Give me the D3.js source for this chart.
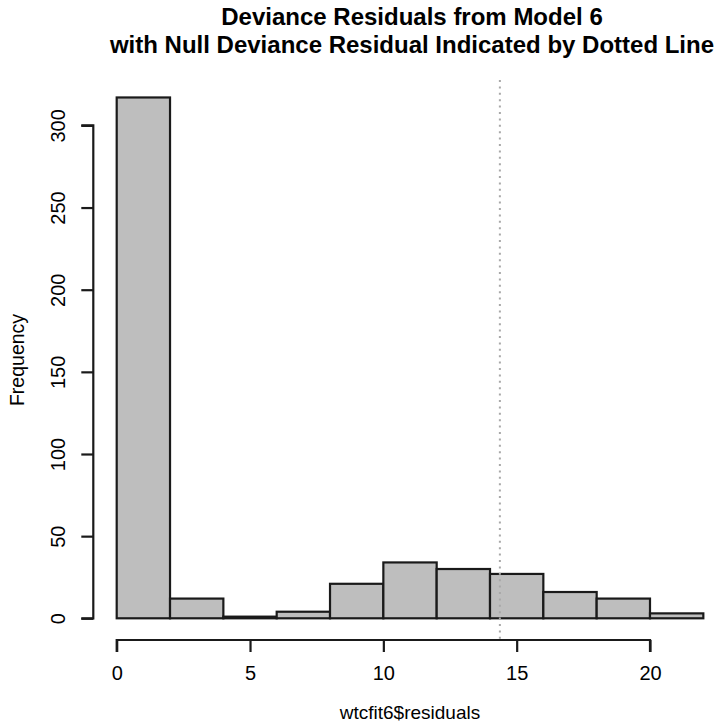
<!DOCTYPE html>
<html>
<head>
<meta charset="utf-8">
<script src="https://cdn.jsdelivr.net/npm/d3@7/dist/d3.min.js"></script>
<style>
  html, body { margin: 0; padding: 0; background: #fff; }
  svg { display: block; }
  text { font-family: "Liberation Sans", Arial, sans-serif; fill: #000; }
</style>
</head>
<body>
<svg id="chart" width="714" height="726"></svg>
<script>
// Histogram bins (breaks) and counts
const binEdges = [0, 2, 4, 6, 8, 10, 12, 14, 16, 18, 20, 22];
const counts = [317, 12, 1, 4, 21, 34, 30, 27, 16, 12, 3];
const xTicks = [0, 5, 10, 15, 20];
const yTicks = [0, 50, 100, 150, 200, 250, 300];
const nullDeviance = 14.37;
const titleLines = ["Deviance Residuals from Model 6", "with Null Deviance Residual Indicated by Dotted Line"];
const xLabel = "wtcfit6$residuals";
const yLabel = "Frequency";

const svg = d3.select("#chart");

const x = d3.scaleLinear().domain([0, 20]).range([116.7, 650]);
const y = d3.scaleLinear().domain([0, 300]).range([618.3, 125.4]);

const bins = counts.map((c, i) => ({ x0: binEdges[i], x1: binEdges[i + 1], n: c }));

// bars
svg.append("g").selectAll("rect").data(bins).join("rect")
  .attr("x", d => x(d.x0))
  .attr("y", d => y(d.n))
  .attr("width", d => x(d.x1) - x(d.x0))
  .attr("height", d => y(0) - y(d.n))
  .attr("fill", "#bebebe")
  .attr("stroke", "#1a1a1a")
  .attr("stroke-width", 2.2);

// dotted line (null deviance)
svg.append("line")
  .attr("x1", x(nullDeviance)).attr("x2", x(nullDeviance))
  .attr("y1", 80).attr("y2", 640)
  .attr("stroke", "#a8a8a8")
  .attr("stroke-width", 2)
  .attr("stroke-dasharray", "2,4.4");

const tickFont = "20px";

// x axis
const xAxis = d3.axisBottom(x).tickValues(xTicks).tickSize(12).tickPadding(14).tickSizeOuter(0);
const gx = svg.append("g").attr("transform", "translate(0,640)").call(xAxis);
gx.select(".domain").attr("stroke", "#1a1a1a").attr("stroke-width", 2.2).attr("d", `M${x(0)},12V0H${x(20)}V12`);
gx.selectAll(".tick line").attr("stroke", "#1a1a1a").attr("stroke-width", 2.2);
gx.selectAll(".tick text").style("font-size", tickFont).style("font-family", "Liberation Sans, Arial, sans-serif").attr("fill", "#000");

// y axis
const yAxis = d3.axisLeft(y).tickValues(yTicks).tickSize(12).tickSizeOuter(0);
const gy = svg.append("g").attr("transform", "translate(93.3,0)").call(yAxis);
gy.select(".domain").attr("stroke", "#1a1a1a").attr("stroke-width", 2.2).attr("d", `M-12,${y(0)}H0V${y(300)}H-12`);
gy.selectAll(".tick line").attr("stroke", "#1a1a1a").attr("stroke-width", 2.2);
gy.selectAll(".tick text")
  .style("font-size", tickFont).style("font-family", "Liberation Sans, Arial, sans-serif").attr("fill", "#000")
  .attr("x", 0).attr("dy", 0)
  .attr("text-anchor", "middle")
  .attr("transform", "translate(-28,0) rotate(-90)");

// axis labels
svg.append("text").attr("x", 410).attr("y", 719).attr("text-anchor", "middle")
  .style("font-size", "19px").text(xLabel);
svg.append("text").attr("transform", "translate(24,360) rotate(-90)").attr("text-anchor", "middle")
  .style("font-size", "19.5px").text(yLabel);

// title
svg.selectAll("text.title").data(titleLines).join("text")
  .attr("class", "title")
  .attr("x", 412).attr("y", (d, i) => 25 + i * 28)
  .attr("text-anchor", "middle")
  .style("font-size", "24px").style("font-weight", "bold")
  .text(d => d);
</script>
</body>
</html>
